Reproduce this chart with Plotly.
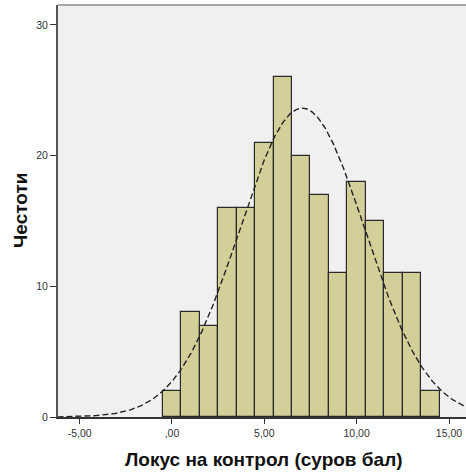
import numpy as np
import plotly.graph_objects as go

bin_centers = [0, 1, 2, 3, 4, 5, 6, 7, 8, 9, 10, 11, 12, 13, 14]
counts = [2, 8, 7, 16, 16, 21, 26, 20, 17, 11, 18, 15, 11, 11, 2]
x_tick_vals = [-5, 0, 5, 10, 15]
x_tick_text = ["-5,00", ",00", "5,00", "10,00", "15,00"]
y_tick_vals = [0, 10, 20, 30]
y_tick_text = ["0", "10", "20", "30"]

c = np.array(bin_centers, dtype=float)
w = np.array(counts, dtype=float)
n = w.sum()
mean = (c * w).sum() / n
sd = np.sqrt(((c - mean) ** 2 * w).sum() / (n - 1))
xs = np.linspace(-6.2, 16, 400)
ys = n * 1.0 / (sd * np.sqrt(2 * np.pi)) * np.exp(-0.5 * ((xs - mean) / sd) ** 2)

fig = go.Figure()
fig.add_trace(go.Bar(x=bin_centers, y=counts, width=1.0,
                     marker=dict(color="#d3cf99", line=dict(color="#2a2a2a", width=1.2)),
                     showlegend=False))
fig.add_trace(go.Scatter(x=xs, y=ys, mode="lines",
                         line=dict(color="#222222", width=1.4, dash="6px,3px"),
                         showlegend=False))

fig.update_layout(
    width=466, height=476,
    margin=dict(l=58, r=0, t=5, b=59),
    paper_bgcolor="white", plot_bgcolor="#f0f0f0",
    bargap=0,
    font=dict(family="Liberation Sans, Arial, sans-serif", color="#222"),
    xaxis=dict(range=[-6.17, 15.92], tickvals=x_tick_vals, ticktext=x_tick_text,
               showgrid=False, zeroline=False, ticks="outside", ticklen=5,
               tickcolor="#333", showline=True, linecolor="#333", linewidth=2,
               tickfont=dict(size=10.5, color="#333"), automargin=False),
    yaxis=dict(range=[0, 31.53], tickvals=y_tick_vals, ticktext=y_tick_text,
               showgrid=False, zeroline=False, ticks="outside", ticklen=6,
               tickcolor="#333", showline=True, linecolor="#555", linewidth=2,
               tickfont=dict(size=10.5, color="#333"), automargin=False),
    annotations=[
        dict(text="<b>Локус на контрол (суров бал)</b>", xref="paper", yref="paper",
             x=(264 - 58) / 408, y=-42 / 412, xanchor="center", yanchor="middle",
             showarrow=False, font=dict(size=19, color="#111")),
        dict(text="<b>Честоти</b>", xref="paper", yref="paper",
             x=-38 / 408, y=(417 - 211) / 412, xanchor="center", yanchor="middle",
             textangle=-90, showarrow=False, font=dict(size=19, color="#111")),
    ],
)
fig.add_shape(type="line", xref="paper", yref="paper", x0=0, x1=1, y0=1, y1=1,
              line=dict(color="#a8a8a8", width=2))
fig.write_html("out.html", config={"displayModeBar": False},
               post_script="document.body.style.margin='0';document.body.style.overflow='hidden';")
